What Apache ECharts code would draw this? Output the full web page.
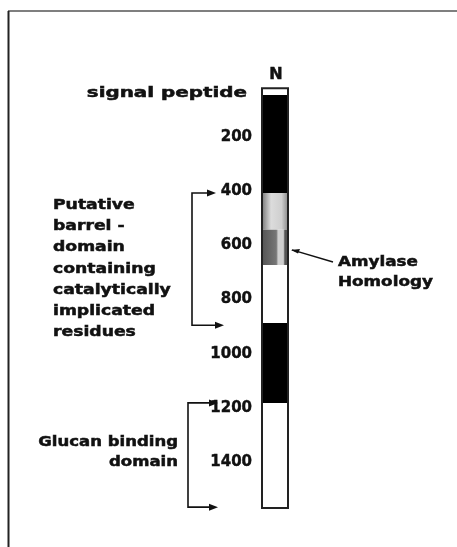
<!DOCTYPE html>
<html>
<head>
<meta charset="utf-8">
<script src="https://cdn.jsdelivr.net/npm/echarts@6/dist/echarts.min.js"></script>
<style>
    html, body { margin: 0; padding: 0; background: #fff; }
    #chart { width: 457px; height: 547px; }
</style>
</head>
<body>
<div id="chart"></div>
<script>
// residue positions along the protein
const tickValues = [200, 400, 600, 800, 1000, 1200, 1400];
const segStart = [20, 45, 407, 543, 673, 887, 1182];
const segEnd = [45, 407, 543, 673, 887, 1182, 1570];
const segKind = ['blank', 'solid', 'barrel', 'amylase', 'blank', 'solid', 'blank'];
const domainFrom = [407, 1182];
const domainTo = [895, 1567];
const barrelLines = ['Putative', 'barrel -', 'domain', 'containing', 'catalytically', 'implicated', 'residues'];
const glucanLines = ['Glucan binding', 'domain'];
const homologyLines = ['Amylase', 'Homology'];
const homologyAt = 617;

const FONT = "bold 14px 'DejaVu Sans', sans-serif";
const INK = '#111';

const fills = {
    blank: '#FFFFFF',
    solid: '#000000',
    barrel: {
        type: 'linear', x: 0, y: 0, x2: 1, y2: 0,
        colorStops: [
            { offset: 0, color: '#7a7a7a' }, { offset: 0.35, color: '#dcdcdc' },
            { offset: 0.75, color: '#cfcfcf' }, { offset: 1, color: '#8a8a8a' }
        ]
    },
    amylase: {
        type: 'linear', x: 0, y: 0, x2: 1, y2: 0,
        colorStops: [
            { offset: 0, color: '#555' }, { offset: 0.55, color: '#777' },
            { offset: 0.62, color: '#d0d0d0' }, { offset: 0.82, color: '#d0d0d0' },
            { offset: 0.88, color: '#555' }, { offset: 1, color: '#555' }
        ]
    }
};

const chart = echarts.init(document.getElementById('chart'), null, { renderer: 'canvas' });

chart.setOption({
    animation: false,
    backgroundColor: '#FFFFFF',
    grid: { left: 262, width: 26, top: 82.8, height: 433.3 },
    xAxis: { type: 'category', data: ['protein'], show: false },
    yAxis: {
        type: 'value', inverse: true, min: 0, max: 1600, interval: 200,
        axisLine: { show: false }, axisTick: { show: false }, splitLine: { show: false },
        axisLabel: {
            margin: 10, color: INK, fontFamily: 'DejaVu Sans', fontWeight: 'bold', fontSize: 15,
            textBorderColor: INK, textBorderWidth: 0.4,
            formatter: v => tickValues.includes(v) ? String(v) : ''
        }
    },
    series: [
        {
            type: 'custom',
            data: segStart.map((s, i) => [0, s, segEnd[i], i]),
            encode: { x: 0, y: [1, 2] },
            renderItem: (params, api) => {
                const top = api.coord([0, api.value(1)]);
                const bottom = api.coord([0, api.value(2)]);
                const w = api.size([1, 0])[0];
                return {
                    type: 'rect',
                    shape: { x: top[0] - w / 2, y: top[1], width: w, height: bottom[1] - top[1] },
                    style: { fill: fills[segKind[api.value(3)]], stroke: null }
                };
            }
        },
        {
            type: 'custom',
            data: [[0, segStart[0], segEnd[segEnd.length - 1]]],
            encode: { x: 0, y: [1, 2] },
            z: 5,
            renderItem: (params, api) => {
                const top = api.coord([0, api.value(1)]);
                const bottom = api.coord([0, api.value(2)]);
                const w = api.size([1, 0])[0];
                return {
                    type: 'rect',
                    shape: { x: top[0] - w / 2, y: top[1], width: w, height: bottom[1] - top[1] },
                    style: { fill: 'none', stroke: '#222', lineWidth: 2 }
                };
            }
        }
    ]
});

const py = v => chart.convertToPixel({ yAxisIndex: 0 }, v);

const text = (str, x, y, align, sx) => ({
    type: 'text', x, y, scaleX: sx || 1.23,
    style: { text: str, x: 0, y: 0, align, verticalAlign: 'middle', font: FONT, fill: INK, stroke: INK, lineWidth: 0.5 }
});

const arrowHead = (x, y) => ({
    type: 'polygon',
    shape: { points: [[x, y], [x - 9, y - 3.5], [x - 9, y + 3.5]] },
    style: { fill: INK }
});

const bracket = (x, y1, y2, tip1, tip2) => [
    {
        type: 'polyline',
        shape: { points: [[tip1 - 4, y1], [x, y1], [x, y2], [tip2 - 4, y2]] },
        style: { stroke: INK, lineWidth: 1.6, fill: null }
    },
    arrowHead(tip1, y1),
    arrowHead(tip2, y2)
];

const graphics = [
    { type: 'line', shape: { x1: 8, y1: 11, x2: 457, y2: 11 }, style: { stroke: '#555', lineWidth: 1.5 } },
    { type: 'line', shape: { x1: 8.5, y1: 11, x2: 8.5, y2: 547 }, style: { stroke: '#222', lineWidth: 2 } },
    { type: 'text', x: 276, y: 75, style: { text: 'N', align: 'center', verticalAlign: 'middle', font: "bold 16px 'DejaVu Sans', sans-serif", fill: INK, stroke: INK, lineWidth: 0.5 } },
    text('signal peptide', 247, 93, 'right', 1.42),
    ...bracket(192, py(domainFrom[0]), py(domainTo[0]), 216, 224),
    ...bracket(188, py(domainFrom[1]), py(domainTo[1]), 218, 218),
    ...barrelLines.map((s, i) => text(s, 53, 205 + i * 21.3, 'left')),
    ...glucanLines.map((s, i) => text(s, 178, 442 + i * 20, 'right', 1.18)),
    ...homologyLines.map((s, i) => text(s, 338, 262 + i * 20, 'left', 1.2)),
    {
        type: 'line',
        shape: { x1: 292, y1: py(homologyAt), x2: 333, y2: 262 },
        style: { stroke: INK, lineWidth: 1.5 }
    },
    {
        type: 'polygon',
        shape: { points: [[291, py(homologyAt)], [300, py(homologyAt) - 1], [298, py(homologyAt) + 3.5]] },
        style: { fill: INK }
    }
];

chart.setOption({ graphic: graphics });
</script>
</body>
</html>
